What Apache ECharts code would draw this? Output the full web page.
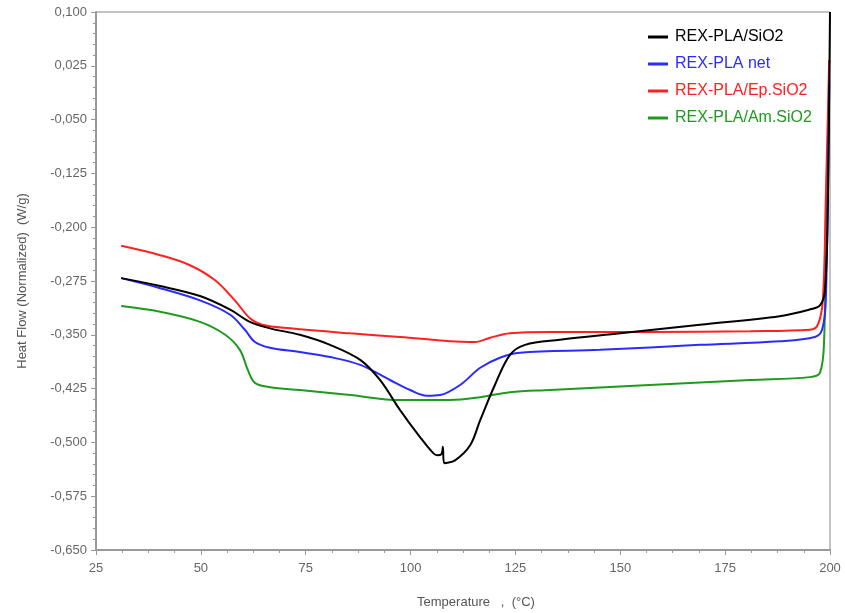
<!DOCTYPE html>
<html>
<head>
<meta charset="utf-8">
<script src="https://cdn.jsdelivr.net/npm/echarts@6/dist/echarts.min.js"></script>
<style>
  html, body { margin: 0; padding: 0; background: #fff; }
  #chart { width: 845px; height: 613px; }
</style>
</head>
<body>
<div id="chart"></div>
<script>
// DSC heat-flow traces: [temperature °C, heat flow W/g]
const seriesNames = ['REX-PLA/SiO2', 'REX-PLA net', 'REX-PLA/Ep.SiO2', 'REX-PLA/Am.SiO2'];
const seriesColors = ['#000000', '#2b2bff', '#ff2020', '#1f9a1f'];

const pointsSiO2 = [
  [31, -0.271], [40.3, -0.282], [49.8, -0.296], [57, -0.315], [61.7, -0.332],
  [66.5, -0.341], [73.6, -0.350], [80.8, -0.364], [88, -0.385], [92.7, -0.413],
  [97.5, -0.455], [102.3, -0.493], [105.4, -0.515], [106.4, -0.518], [107.4, -0.516],
  [107.7, -0.506], [108.0, -0.529], [110.6, -0.525], [114.2, -0.504], [116.6, -0.469],
  [120.1, -0.420], [123.7, -0.378], [127.3, -0.364], [135.6, -0.357], [150, -0.348],
  [169, -0.336], [188, -0.324], [195, -0.315], [197.6, -0.309], [198.8, -0.288],
  [199.5, -0.162], [200, 0.100]
];
const pointsNet = [
  [31, -0.271], [40.3, -0.285], [49.8, -0.302], [57, -0.322], [60.5, -0.343],
  [62.9, -0.360], [66.5, -0.368], [73.6, -0.374], [80.8, -0.381], [88, -0.392],
  [95.1, -0.413], [99.9, -0.427], [103.9, -0.435], [107, -0.434], [111.8, -0.420],
  [116.6, -0.396], [121.3, -0.382], [126.1, -0.375], [145.2, -0.371], [169, -0.364],
  [188, -0.359], [196.4, -0.353], [198.1, -0.343], [199, -0.302], [199.8, 0.000]
];
const pointsEp = [
  [31, -0.226], [40.3, -0.239], [47.4, -0.253], [53.4, -0.274], [58.1, -0.302],
  [61.7, -0.327], [64.6, -0.336], [71.3, -0.341], [85.6, -0.348], [97.5, -0.353],
  [109.4, -0.359], [115.4, -0.360], [119, -0.354], [123.7, -0.348], [133.3, -0.346],
  [157, -0.346], [181, -0.345], [195.2, -0.343], [197.1, -0.336], [198.3, -0.301],
  [199.0, -0.160], [199.8, 0.033]
];
const pointsAm = [
  [31, -0.310], [40.3, -0.318], [49.8, -0.332], [55.8, -0.350], [59.3, -0.371],
  [61.2, -0.399], [62.9, -0.417], [66.5, -0.423], [73.6, -0.427], [85.6, -0.434],
  [97.5, -0.441], [109.4, -0.441], [116.6, -0.437], [123.7, -0.430], [133.3, -0.427],
  [157, -0.420], [181, -0.413], [195.2, -0.409], [197.6, -0.403], [198.6, -0.357],
  [199.1, -0.162], [199.7, -0.041]
];
const seriesPoints = [pointsSiO2, pointsNet, pointsEp, pointsAm];

const xTicks = { min: 25, max: 200, interval: 25 };
const yTicks = { min: -0.650, max: 0.100, interval: 0.075 };

const fmtComma = v => v.toFixed(3).replace('.', ',');
const FONT = 'Liberation Sans, Arial, sans-serif';

const chart = echarts.init(document.getElementById('chart'), null, { renderer: 'canvas' });

chart.setOption({
  backgroundColor: '#ffffff',
  animation: false,
  grid: {
    left: 96, right: 15, top: 12, bottom: 63,
    containLabel: false,
    outerBoundsMode: 'none',
    show: true, borderColor: '#888', borderWidth: 1
  },
  legend: {
    orient: 'vertical',
    left: 643, top: 24,
    itemWidth: 20, itemHeight: 3, itemGap: 11,
    icon: 'rect',
    data: seriesNames.map((n, i) => ({ name: n, textStyle: { color: seriesColors[i] } })),
    textStyle: { fontFamily: FONT, fontSize: 16, padding: [0, 0, 0, 2] }
  },
  xAxis: {
    type: 'value',
    min: xTicks.min, max: xTicks.max, interval: xTicks.interval,
    name: 'Temperature   ,  (°C)',
    nameLocation: 'middle', nameGap: 46,
    nameTextStyle: { color: '#555', fontFamily: FONT, fontSize: 13, padding: [0, 0, 0, 26] },
    axisLine: { onZero: false, lineStyle: { color: '#999', width: 2 } },
    axisTick: { inside: false, length: 5, lineStyle: { color: '#999' } },
    minorTick: { show: true, splitNumber: 4, length: 3, lineStyle: { color: '#999' } },
    axisLabel: { color: '#666', fontFamily: FONT, fontSize: 13, margin: 12 },
    splitLine: { show: false }
  },
  yAxis: {
    type: 'value',
    min: yTicks.min, max: yTicks.max, interval: yTicks.interval,
    name: 'Heat Flow (Normalized)  (W/g)',
    nameLocation: 'middle', nameGap: 67, nameRotate: 90,
    nameTextStyle: { color: '#555', fontFamily: FONT, fontSize: 13 },
    axisLine: { onZero: false, lineStyle: { color: '#999', width: 2 } },
    axisTick: { inside: false, length: 5, lineStyle: { color: '#999' } },
    minorTick: { show: true, splitNumber: 5, length: 3, lineStyle: { color: '#999' } },
    axisLabel: { color: '#666', fontFamily: FONT, fontSize: 13, margin: 9, formatter: fmtComma },
    splitLine: { show: false }
  },
  series: seriesNames.map((n, i) => ({
    name: n,
    type: 'line',
    data: seriesPoints[i],
    showSymbol: false,
    symbol: 'none',
    smooth: 0.35,
    clip: true,
    lineStyle: { color: seriesColors[i], width: 2 },
    itemStyle: { color: seriesColors[i] },
    z: 4 - i
  }))
});
</script>
</body>
</html>
